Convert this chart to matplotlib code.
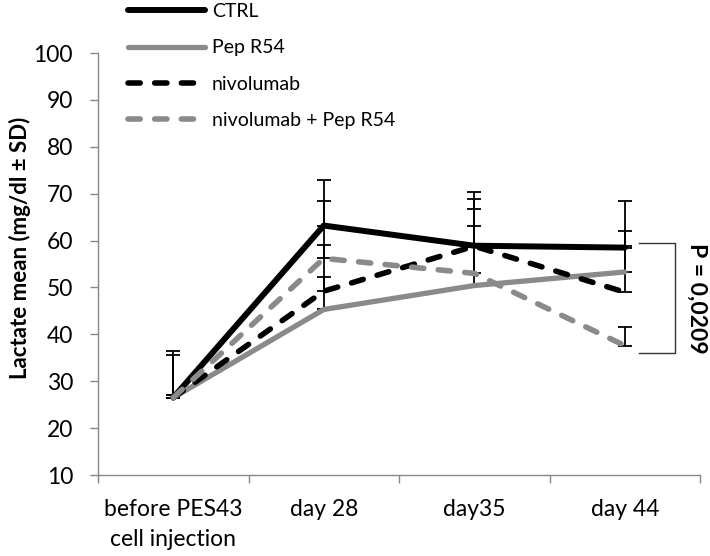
import matplotlib
matplotlib.use("Agg")
import matplotlib.pyplot as plt
import numpy as np

plt.rcParams['font.family'] = ['Lato', 'DejaVu Sans']

categories = ["before PES43\ncell injection", "day 28", "day35", "day 44"]
series_names = ["CTRL", "Pep R54", "nivolumab", "nivolumab + Pep R54"]
ctrl = [26.5, 63.2, 58.9, 58.5]
pep = [26.5, 45.3, 50.4, 53.3]
nivo = [26.5, 49.2, 58.8, 49.0]
combo = [26.5, 56.2, 53.0, 37.6]
ctrl_sd = [10.0, 9.7, 11.4, 9.9]
pep_sd = [0.5, 6.9, 12.7, 5.5]
nivo_sd = [9.1, 9.8, 10.0, 13.0]
combo_sd = [0.5, 12.2, 13.7, 4.0]
p_text = "P = 0,0209"
p_range = (59.5, 36.0)

fig = plt.figure(figsize=(7.10, 5.56), dpi=100)
ax = fig.add_axes([98/710, 81/556, 602/710, 422/556])

x = np.arange(len(categories))
gray = '#8a8a8a'
styles = [
    dict(color='black', lw=4.3, ls='-'),
    dict(color=gray, lw=3.8, ls='-'),
    dict(color='black', lw=4.0, ls=(0, (2.2, 2.6))),
    dict(color=gray, lw=4.0, ls=(0, (2.2, 2.6))),
]
data = [ctrl, pep, nivo, combo]
sds = [ctrl_sd, pep_sd, nivo_sd, combo_sd]
handles = []
for name, vals, sd, st in zip(series_names, data, sds, styles):
    ax.errorbar(x, vals, yerr=[np.zeros(len(sd)), sd], fmt='none',
                ecolor='black', elinewidth=1.3, capsize=5, capthick=1.3, zorder=2)
for name, vals, st in zip(series_names, data, styles):
    ln, = ax.plot(x, vals, color=st['color'], lw=st['lw'], ls=st['ls'],
                  solid_capstyle='round', dash_capstyle='round',
                  solid_joinstyle='round', label=name, zorder=3)
    handles.append(ln)

ax.set_xlim(-0.5, 3.5)
ax.set_ylim(10, 100)
ax.set_yticks(np.arange(10, 101, 10))
ax.set_xticks(x)
ax.set_xticklabels(categories, fontsize=16.5, linespacing=1.55)
ax.set_xticks(np.arange(-0.5, 3.6, 1), minor=True)
ax.tick_params(axis='x', which='major', length=0, pad=17)
ax.tick_params(axis='x', which='minor', length=6, color='#888888', width=1)
ax.tick_params(axis='y', length=6, color='#888888', width=1, labelsize=16.5, pad=12)
for s in ['top', 'right']:
    ax.spines[s].set_visible(False)
for s in ['left', 'bottom']:
    ax.spines[s].set_color('#888888')
    ax.spines[s].set_linewidth(1)

fig.text(0.028, 0.555, "Lactate mean (mg/dl ± SD)", rotation=90, fontsize=16,
         fontweight='bold', ha='center', va='center')

leg = ax.legend(handles=handles, loc='upper left', bbox_to_anchor=(125/710, 1.0),
                bbox_transform=fig.transFigure, frameon=False, fontsize=14,
                handlelength=3.95, labelspacing=1.0, handletextpad=0.36,
                borderaxespad=0.0, borderpad=0.15)

# significance bracket
bx0, bx1 = 3.095, 3.334
ax.plot([bx0, bx1, bx1, bx0], [p_range[0], p_range[0], p_range[1], p_range[1]],
        color='#333333', lw=1.0, clip_on=False)
ax.text(3.48, (p_range[0] + p_range[1]) / 2, p_text, rotation=270, fontsize=16.5,
        fontweight='bold', ha='center', va='center', clip_on=False)

fig.savefig("out.png", dpi=100)
